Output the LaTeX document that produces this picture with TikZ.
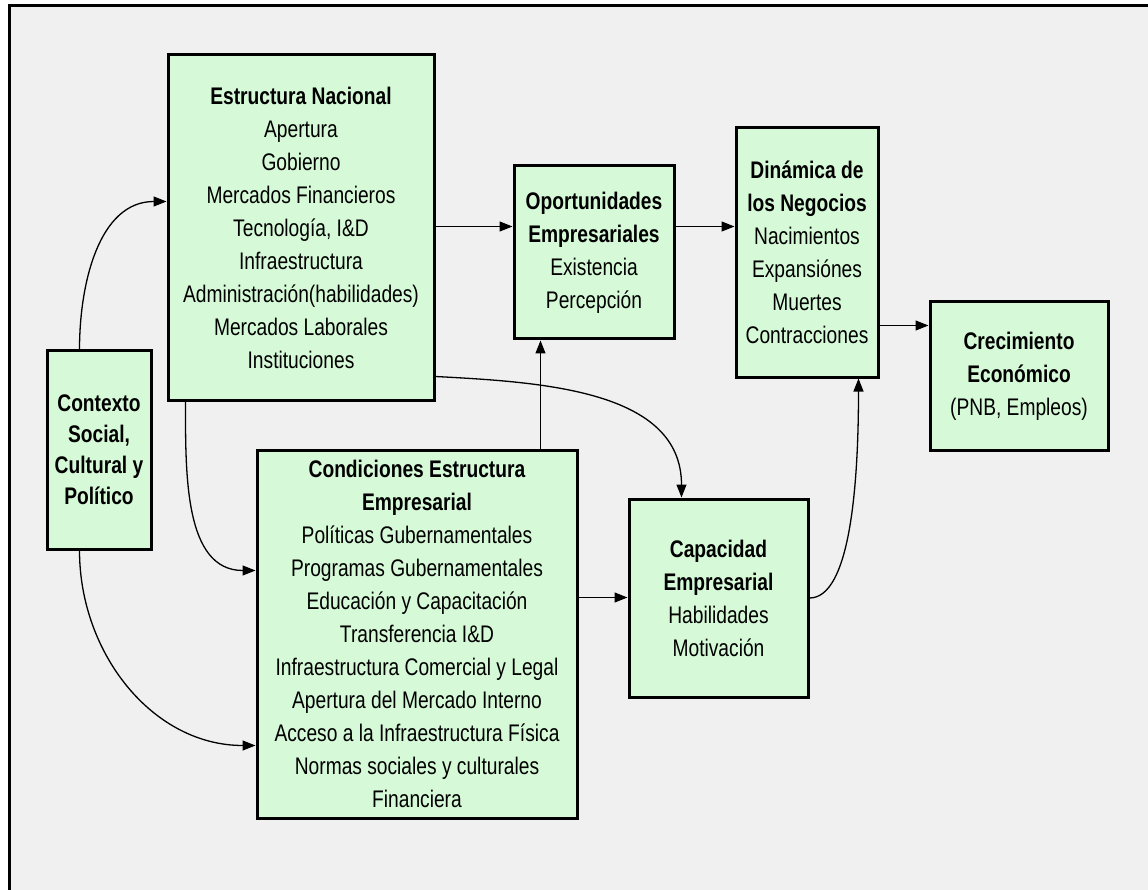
\documentclass[tikz,border=0pt]{standalone}
\usepackage{fontspec}
\setmainfont{Liberation Sans}[FakeStretch=0.8]
\usetikzlibrary{arrows.meta,calc}
\definecolor{boxfill}{RGB}{214,250,216}
\definecolor{bgc}{RGB}{240,240,240}
\begin{document}
\begin{tikzpicture}[x=1pt,y=-1pt,
  box/.style={draw=black,line width=3pt,fill=boxfill,inner sep=0pt,align=center,
    font=\fontsize{24}{33}\selectfont},
  arr/.style={line width=1.3pt,-{Triangle[length=13pt,width=10pt]}}]
\useasboundingbox (0,0) rectangle (1148,890);
\clip (0,0) rectangle (1148,890);
\fill[white] (0,0) rectangle (1148,890);
\fill[bgc] (9,6) rectangle (1160,900);
\draw[line width=3pt] (9,900) -- (9,6) -- (1160,6);

\node[box,minimum width=266pt,minimum height=345pt] (en) at (301,227.5)
  {\textbf{Estructura Nacional}\\Apertura\\Gobierno\\Mercados Financieros\\Tecnología, I\&D\\Infraestructura\\Administración(habilidades)\\Mercados Laborales\\Instituciones};
\node[box,minimum width=104pt,minimum height=198pt,font=\fontsize{24}{31}\selectfont] (ctx) at (99,450)
  {\textbf{Contexto}\\\textbf{Social,}\\\textbf{Cultural y}\\\textbf{Político}};
\node[box,minimum width=160pt,minimum height=173pt] (op) at (594,252.5)
  {\textbf{Oportunidades}\\\textbf{Empresariales}\\Existencia\\Percepción};
\node[box,minimum width=142pt,minimum height=249pt] (din) at (807,252.5)
  {\textbf{Dinámica de}\\\textbf{los Negocios}\\Nacimientos\\Expansiónes\\Muertes\\Contracciones};
\node[box,minimum width=178pt,minimum height=148pt] (cre) at (1019,376)
  {\textbf{Crecimiento}\\\textbf{Económico}\\(PNB, Empleos)};
\node[box,minimum width=320pt,minimum height=368pt] (cond) at (417,634)
  {\textbf{Condiciones Estructura}\\\textbf{Empresarial}\\Políticas Gubernamentales\\Programas Gubernamentales\\Educación y Capacitación\\Transferencia I\&D\\Infraestructura Comercial y Legal\\Apertura del Mercado Interno\\Acceso a la Infraestructura Física\\Normas sociales y culturales\\Financiera};
\node[box,minimum width=179pt,minimum height=198pt] (cap) at (718.5,598)
  {\textbf{Capacidad}\\\textbf{Empresarial}\\Habilidades\\Motivación};

\coordinate (a4) at ($(op.north west)+(0,62)$);
\coordinate (a6) at ($(cre.north west)+(0,25)$);
\coordinate (a7) at ($(op.south west)+(28,0)$);
\coordinate (a9) at ($(cap.north west)+(0,100)$);

\draw[arr] ($(ctx.north west)+(34,0)$) to[out=90,in=180] ($(en.north west)+(0,148)$);
\draw[arr] ($(ctx.south west)+(34,0)$) to[out=-90,in=180] ($(cond.north west)+(0,297)$);
\draw[arr] ($(en.south west)+(19,0)$) to[out=-90,in=180] ($(cond.north west)+(0,122)$);
\draw[arr] (en.east |- a4) -- (a4);
\draw[arr] (op.east |- a4) -- (din.west |- a4);
\draw[arr] (din.east |- a6) -- (a6);
\draw[arr] (cond.north -| a7) -- (a7);
\draw[arr] ($(en.north east)+(0,323)$) to[out=-3,in=90] ($(cap.north west)+(54,0)$);
\draw[arr] (cond.east |- a9) -- (a9);
\draw[arr] (cap.east) to[out=0,in=-90,out distance=40pt,in distance=110pt] ($(din.south west)+(124,0)$);
\end{tikzpicture}
\end{document}
